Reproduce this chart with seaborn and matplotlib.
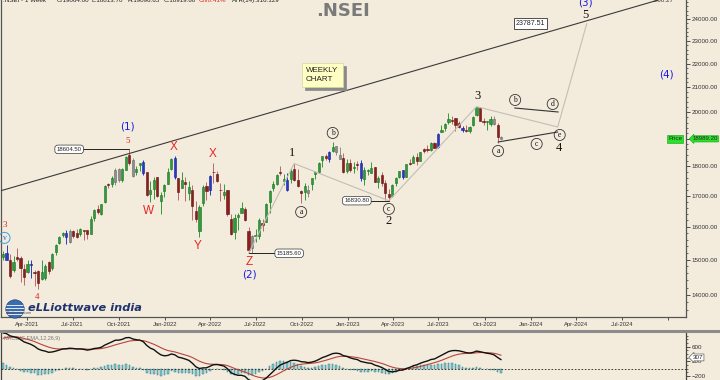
import numpy as np
import pandas as pd
import matplotlib
matplotlib.use("Agg")
import matplotlib.pyplot as plt
import matplotlib.dates as mdates
import matplotlib.ticker as mticker
from matplotlib import transforms
from matplotlib.lines import Line2D
from matplotlib.patches import Circle
import seaborn as sns

# ---------------- data (weekly candles, week ending Friday) ----------------
first_week_end = "2021-02-12"
opens = [
    15064, 15208, 14999, 14702, 15065, 15049, 14737, 14645, 14837, 14644,
    14677, 14449, 14481, 14928, 14756, 15211, 15487, 15725, 15791, 15525,
    15870, 15794, 15759, 15872, 15878, 15775, 16258, 16565, 16382, 16775,
    17400, 17372, 17443, 17902, 17531, 17867, 18410, 18229, 17783, 18041,
    18140, 17796, 17056, 17209, 17619, 16824, 17149, 17388, 17913, 18308,
    17575, 17244, 17456, 17077, 17192, 16481, 15868, 16757, 17329, 17182,
    17810, 17740, 17183, 17006, 17193, 16227, 15845, 16290, 16414, 16570,
    15877, 15335, 15700, 15710, 16127, 16152, 16776, 17244, 17402, 17812,
    17491, 17188, 17546, 17891, 17540, 17157, 17102, 17094, 17396, 17736,
    17784, 18211, 18377, 18246, 18552, 18719, 18402, 18288, 17831, 18132,
    17923, 18073, 18118, 17541, 17818, 17764, 17965, 17451, 17681, 17421,
    17066, 16977, 17428, 17634, 17863, 17640, 18124, 18121, 18339, 18201,
    18619, 18612, 18595, 18849, 18682, 19248, 19401, 19612, 19707, 19784,
    19576, 19383, 19320, 19298, 19526, 19890, 20156, 19674, 19622, 19539,
    19737, 19521, 19064]
highs = [
    15257, 15431, 15176, 15111, 15336, 15093, 14879, 14984, 14984, 14697,
    14700, 14983, 14863, 14967, 15189, 15469, 15705, 15835, 15901, 15915,
    15893, 15915, 15952, 15882, 15880, 16349, 16543, 16702, 16722, 17340,
    17437, 17644, 17947, 17947, 17941, 18350, 18604, 18310, 18012, 18123,
    18210, 17805, 17489, 17640, 17639, 17118, 17400, 17945, 18286, 18351,
    17600, 17794, 17640, 17490, 17352, 16815, 16694, 17344, 17442, 17704,
    18114, 17842, 17422, 17377, 17197, 16404, 16400, 16415, 16793, 16610,
    16000, 15749, 15927, 16275, 16248, 16752, 17172, 17490, 17719, 17992,
    17727, 17777, 17925, 18096, 17919, 17196, 17428, 17348, 17607, 17838,
    18135, 18363, 18443, 18534, 18888, 18728, 18697, 18473, 18265, 18252,
    18141, 18201, 18204, 17972, 17917, 18134, 17972, 17645, 17800, 17529,
    17207, 17381, 17638, 17842, 17863, 18089, 18267, 18389, 18459, 18508,
    18663, 18777, 18865, 18887, 19201, 19524, 19596, 19992, 19868, 19796,
    19646, 19466, 19530, 19458, 19867, 20222, 20195, 19798, 19661, 19843,
    19849, 19593, 19097]
lows = [
    14977, 14977, 14467, 14635, 14954, 14350, 14264, 14617, 14460, 14248,
    14151, 14416, 14417, 14592, 14697, 15127, 15451, 15678, 15451, 15505,
    15636, 15632, 15707, 15578, 15631, 15775, 16162, 16396, 16374, 16765,
    17255, 17270, 17362, 17452, 17453, 17864, 18034, 17613, 17697, 17836,
    17688, 16985, 16782, 16891, 16966, 16410, 16957, 17383, 17880, 17566,
    16837, 17244, 16810, 16843, 16203, 16134, 15671, 16663, 16843, 17006,
    17422, 17442, 16824, 16888, 16340, 15736, 15601, 15904, 16438, 16172,
    15183, 15191, 15511, 15601, 15858, 16143, 16439, 17154, 17359, 17710,
    17345, 17167, 17429, 17497, 17292, 16748, 16855, 16951, 17186, 17559,
    17774, 17970, 18210, 18133, 18515, 18410, 18255, 17780, 17775, 17795,
    17775, 17853, 17493, 17353, 17698, 17762, 17456, 17255, 17325, 16851,
    16828, 16940, 17313, 17598, 17553, 17613, 18042, 18105, 18060, 18178,
    18464, 18506, 18556, 18647, 18647, 19236, 19302, 19563, 19563, 19297,
    19413, 19254, 19230, 19224, 19491, 19865, 19657, 19492, 19333, 19480,
    19518, 18837, 18974]
closes = [
    15163, 14982, 14529, 14938, 15031, 14744, 14507, 14867, 14835, 14617,
    14341, 14631, 14823, 14677, 15175, 15436, 15670, 15799, 15683, 15860,
    15722, 15690, 15923, 15856, 15763, 16238, 16529, 16450, 16705, 17324,
    17369, 17585, 17853, 17532, 17895, 18338, 18115, 17672, 17916, 18102,
    17765, 17026, 17197, 17511, 16985, 17004, 17354, 17812, 18256, 17617,
    17102, 17516, 17375, 17276, 16658, 16246, 16630, 17287, 17153, 17670,
    17784, 17476, 17172, 17102, 16411, 15782, 16266, 16352, 16584, 16201,
    15293, 15699, 15752, 16220, 16049, 16719, 17158, 17397, 17698, 17758,
    17558, 17539, 17833, 17531, 17327, 17094, 17315, 17186, 17576, 17787,
    18117, 18350, 18308, 18512, 18697, 18497, 18269, 17807, 18105, 17859,
    17957, 18028, 17604, 17854, 17856, 17944, 17466, 17594, 17413, 17100,
    16945, 17360, 17599, 17828, 17624, 18065, 18069, 18315, 18203, 18499,
    18534, 18563, 18826, 18665, 19189, 19332, 19565, 19745, 19646, 19517,
    19428, 19310, 19266, 19435, 19820, 20192, 19674, 19638, 19654, 19751,
    19543, 19047, 18989]
blue_candles = [1, 8, 18, 40, 49, 59, 81, 93, 102, 114, 124, 131]
grey_candles = [19, 32, 33, 37, 71, 87, 95, 96, 140, 142]

# MACD(C,EMA,12,26,9) state at the first bar
macd_first = 975
signal_first = 830
fast_ema_gap_first = 860
macd_tag = 307
last_price = 18989.20

# drawn analysis
trend_dates = ["2021-04-01", "2024-07-01"]
trend_prices = [17416, 24397]
wave_dates = ["2022-06-17", "2022-09-16", "2023-03-24", "2023-09-15", "2024-02-24", "2024-04-22"]
wave_prices = [15183.4, 18096.2, 16828.3, 20222.5, 19435, 23787.51]
tri_bd_dates = ["2023-11-30", "2024-02-25"]
tri_bd_prices = [20170, 20013]
tri_ae_dates = ["2023-10-28", "2024-02-24"]
tri_ae_prices = [18874, 19246]
level_values = [18604.50, 15185.60, 16830.80]
level_from = ["2021-10-22", "2022-06-17", "2023-03-24"]
level_box_at = ["2021-06-24", "2022-09-06", "2023-01-19"]
target_value = 23787.51
target_box_at = "2024-01-01"

# ---------------- style ----------------
BG = "#F3ECDC"
sns.set_theme(style="white", rc={"axes.facecolor": BG, "figure.facecolor": BG,
                                 "savefig.facecolor": BG})
plt.rcParams["font.family"] = ["Liberation Sans", "DejaVu Sans"]

GREEN, GREEN_E = "#2F9B39", "#1F6E26"
RED, RED_E, RED_W = "#8E1D1D", "#5E1010", "#B86A6A"
BLUE, GREY = "#2638D0", "#8E8E8E"

W, H = 720, 380
def rect(x0, y0, x1, y1):
    return [x0 / W, 1 - y1 / H, (x1 - x0) / W, (y1 - y0) / H]

fig = plt.figure(figsize=(7.2, 3.8), dpi=100)
ax = fig.add_axes(rect(1, 0, 686, 317))
axm = fig.add_axes(rect(1, 332, 686, 380))

dates = pd.date_range(first_week_end, periods=len(closes), freq="W-FRI")
df = pd.DataFrame({"date": dates, "open": opens, "high": highs, "low": lows, "close": closes})

body_c, edge_c, wick_c = [], [], []
for i, (o, c) in enumerate(zip(df["open"], df["close"])):
    if i in blue_candles:
        body_c.append(BLUE); edge_c.append("#14208A"); wick_c.append(BLUE)
    elif i in grey_candles:
        body_c.append(GREY); edge_c.append("#666666"); wick_c.append(GREY)
    elif c >= o:
        body_c.append(GREEN); edge_c.append(GREEN_E); wick_c.append(GREEN)
    else:
        body_c.append(RED); edge_c.append(RED_E); wick_c.append(RED_W)

ax.set_yscale("log")
ax.vlines(df["date"], df["low"], df["high"], colors=wick_c, lw=0.7, zorder=3)
bh = np.maximum((df["close"] - df["open"]).abs().values, 25)
bb = np.minimum(df["open"], df["close"]).values
ax.bar(df["date"], bh, bottom=bb, width=4.3, color=body_c, edgecolor=edge_c, lw=0.4, zorder=4)

xmin = pd.Timestamp("2021-04-01") - pd.Timedelta(days=52)
xmax = pd.Timestamp("2021-04-01") + pd.Timedelta(days=1315)
ax.set_xlim(xmin, xmax)
ax.set_ylim(13409, 24907)

# trend line and wave paths
d2n = lambda s: mdates.date2num(pd.Timestamp(s))
ax.axline((d2n(trend_dates[0]), trend_prices[0]), (d2n(trend_dates[1]), trend_prices[1]),
          color="#3a3a3a", lw=0.8, zorder=5)
ax.plot(pd.to_datetime(wave_dates), wave_prices, color="#C2BEB5", lw=0.8, zorder=5)
ax.plot(pd.to_datetime(tri_bd_dates), tri_bd_prices, color="#333", lw=0.8, zorder=5)
ax.plot(pd.to_datetime(tri_ae_dates), tri_ae_prices, color="#333", lw=0.8, zorder=5)

for v, d0, db in zip(level_values, level_from, level_box_at):
    ax.plot(pd.to_datetime([db, d0]), [v, v], color="#222", lw=0.7, zorder=6)
    ax.text(pd.Timestamp(db), v, f"{v:.2f}", fontsize=4.3, ha="center", va="center", zorder=7,
            color="#222", bbox=dict(boxstyle="round,pad=0.3,rounding_size=0.5", fc="white", ec="#333", lw=0.5))
ax.text(pd.Timestamp(target_box_at), target_value, f"{target_value:.2f}", fontsize=5, ha="center",
        va="center", zorder=7, color="#222",
        bbox=dict(boxstyle="square,pad=0.25", fc="white", ec="#333", lw=0.6))

# wave labels
styles = {
    "rn": dict(family="Liberation Serif", fontsize=6.5, color="#E02020"),
    "rl": dict(family="Liberation Sans", fontsize=8.5, color="#E62626"),
    "bd": dict(family="DejaVu Sans", fontsize=7.5, color="#1A1AE6"),
    "bn": dict(family="Liberation Serif", fontsize=9, color="#111"),
    "ci": dict(family="Liberation Serif", fontsize=5.5, color="#111",
               bbox=dict(boxstyle="circle,pad=0.2", fc="none", ec="#333", lw=0.6)),
    "cv": dict(family="Liberation Serif", fontsize=5.5, color="#1E60D0",
               bbox=dict(boxstyle="circle,pad=0.2", fc="none", ec="#3AA0E8", lw=0.7)),
}
labels = [
    ("3", "2021-02-15", 16052, "rn"), ("v", "2021-02-15", 15650, "cv"),
    ("4", "2021-04-22", 13946, "rn"), ("(1)", "2021-10-19", 19435, "bd"),
    ("5", "2021-10-19", 18912, "rn"), ("X", "2022-01-19", 18691, "rl"),
    ("W", "2021-11-30", 16495, "rl"), ("Y", "2022-03-08", 15403, "rl"),
    ("X", "2022-04-07", 18439, "rl"), ("Z", "2022-06-18", 14930, "rl"),
    ("(2)", "2022-06-18", 14557, "bd"), ("1", "2022-09-12", 18473, "bn"),
    ("a", "2022-09-30", 16462, "ci"), ("b", "2022-12-02", 19210, "ci"),
    ("c", "2023-03-24", 16560, "ci"), ("2", "2023-03-23", 16178, "bn"),
    ("3", "2023-09-16", 20628, "bn"), ("a", "2023-10-28", 18545, "ci"),
    ("b", "2023-12-01", 20489, "ci"), ("c", "2024-01-13", 18802, "ci"),
    ("d", "2024-02-14", 20329, "ci"), ("e", "2024-02-28", 19135, "ci"),
    ("4", "2024-02-26", 18655, "bn"), ("(3)", "2024-04-20", 24762, "bd"),
    ("5", "2024-04-20", 24188, "bn"), ("(4)", "2024-09-27", 21514, "bd"),
]
for t, d, p, s in labels:
    ax.text(pd.Timestamp(d), p, t, ha="center", va="center", zorder=8, **styles[s])

# weekly chart note with shadow
note_d, note_p = pd.Timestamp("2022-11-11"), 21514
sh = transforms.offset_copy(ax.transData, fig=fig, x=3, y=-3, units="dots")
ax.text(note_d, note_p, "WEEKLY\nCHART", transform=sh, fontsize=5.8, ha="center", va="center",
        multialignment="left", linespacing=1.35, color="#8A8A8A", zorder=8,
        bbox=dict(boxstyle="square,pad=0.55", fc="#8A8A8A", ec="#8A8A8A", lw=0.5))
ax.text(note_d, note_p, "WEEKLY\nCHART", fontsize=5.8, ha="center", va="center",
        multialignment="left", linespacing=1.35, color="#222", zorder=9,
        bbox=dict(boxstyle="square,pad=0.55", fc="#FFFFC4", ec="#D4D4A0", lw=0.5))

# price tags
bt = transforms.blended_transform_factory(ax.transAxes, ax.transData)
ax.text(0.9945, last_price, "Price", transform=bt, ha="right", va="center", fontsize=4.5, zorder=9,
        bbox=dict(boxstyle="square,pad=0.2", fc="#2BE02B", ec="#12A012", lw=0.4))
ax.text(1.0095, last_price, f"{last_price:.2f}", transform=bt, ha="left", va="center", fontsize=4.4,
        zorder=9, clip_on=False,
        bbox=dict(boxstyle="larrow,pad=0.1", fc="#2BE02B", ec="#12A012", lw=0.4))

# price axis formatting
ax.yaxis.tick_right()
ax.yaxis.set_major_locator(mticker.FixedLocator(np.arange(14000, 24001, 1000)))
ax.yaxis.set_major_formatter(mticker.FuncFormatter(lambda v, p: f"{v:.2f}"))
ax.yaxis.set_minor_locator(mticker.FixedLocator([v for v in np.arange(13400, 25000, 200) if v % 1000]))
ax.yaxis.set_minor_formatter(mticker.NullFormatter())
ax.tick_params(axis="y", which="major", right=True, left=False, length=3, width=0.6,
               labelsize=4.5, pad=1.2, colors="#333")
ax.tick_params(axis="y", which="minor", right=True, left=False, length=1.6, width=0.5, colors="#333")
ax.xaxis.set_major_locator(mdates.MonthLocator(bymonth=[1, 4, 7, 10]))
ax.xaxis.set_major_formatter(mticker.FuncFormatter(
    lambda v, p: "" if mdates.num2date(v).year == 2024 and mdates.num2date(v).month == 10
    else mdates.num2date(v).strftime("%b-%Y")))
ax.tick_params(axis="x", bottom=True, length=2, width=0.6, labelsize=4.2, pad=1.5, colors="#333")
for s in ["left", "right", "bottom"]:
    ax.spines[s].set_color("#555"); ax.spines[s].set_linewidth(0.9)
ax.spines["top"].set_visible(False)
ax.grid(False)

# ---------------- MACD panel ----------------
af, asl, ag = 2 / 13, 2 / 27, 2 / 10
ef = [closes[0] - fast_ema_gap_first]
es = [ef[0] - macd_first]
for c in closes[1:]:
    ef.append(ef[-1] + af * (c - ef[-1]))
    es.append(es[-1] + asl * (c - es[-1]))
macd = np.array(ef) - np.array(es)
sig = [signal_first]
for m in macd[1:]:
    sig.append(sig[-1] + ag * (m - sig[-1]))
sig = np.array(sig)
mdf = pd.DataFrame({"date": dates, "macd": macd, "signal": sig, "bars": macd - sig})

axm.bar(mdf["date"], mdf["bars"], width=3.0, color="#7CCAD5", edgecolor="#2F7E8A", lw=0.35, zorder=2)
axm.axhline(0, color="#222", lw=0.6, ls=(0, (2, 2)), zorder=3)
sns.lineplot(data=mdf, x="date", y="signal", ax=axm, color="#B8443C", lw=0.8, zorder=4)
sns.lineplot(data=mdf, x="date", y="macd", ax=axm, color="#111", lw=1.0, zorder=5)
axm.set_xlim(xmin, xmax)
axm.set_ylim(-309, 1001)
axm.set_xlabel(""); axm.set_ylabel("")
axm.set_xticks([])
axm.yaxis.tick_right()
axm.yaxis.set_major_locator(mticker.FixedLocator([600, 200, -200]))
axm.yaxis.set_minor_locator(mticker.FixedLocator([-300, -100, 0, 100, 300, 400, 500, 700, 800, 900]))
axm.tick_params(axis="y", which="major", right=True, left=False, length=3, width=0.6,
                labelsize=4.5, pad=1.2, colors="#333")
axm.tick_params(axis="y", which="minor", right=True, left=False, length=1.6, width=0.5, colors="#333")
for s in ["left", "right"]:
    axm.spines[s].set_color("#444"); axm.spines[s].set_linewidth(0.9)
axm.spines["top"].set_visible(False); axm.spines["bottom"].set_visible(False)
axm.grid(False)
axm.text(0.004, 0.86, "MACD(C,EMA,12,26,9)", transform=axm.transAxes, fontsize=4, color="#7a7a7a",
         va="center", zorder=1)
bm = transforms.blended_transform_factory(axm.transAxes, axm.transData)
axm.text(1.0095, macd_tag, f"{macd_tag}", transform=bm, ha="left", va="center", fontsize=4.5,
         clip_on=False, zorder=9,
         bbox=dict(boxstyle="larrow,pad=0.15", fc="white", ec="#666", lw=0.5))

# separator between panels
fig.add_artist(Line2D([0, 1], [1 - 331 / H] * 2, transform=fig.transFigure, color="#8C8C8C", lw=2.2))

# header texts
ty = 1 - 0.5 / H
fig.text(3 / W, ty, ".NSEI - 1 Week", fontsize=4.5, va="center", color="#222")
for xp, t, col in [(57, "O:19064.00", "#222"), (92, "L:18813.70", "#222"), (127, "H:19096.65", "#222"),
                   (164, "C:18919.60", "#222"), (199, "Ch/0.41%", "#E02020"), (232, "ATR(14):316.129", "#222")]:
    fig.text(xp / W, ty, t, fontsize=4.5, va="center", color=col)
fig.text(652 / W, ty, "1:00:27", fontsize=4.5, va="center", color="#333")
fig.text(343 / W, 1 - 11.5 / H, ".NSEI", fontsize=13, fontweight="bold", color="#7A7A7A",
         family="DejaVu Sans", ha="center", va="center")

# logo
fig.text(28 / W, 1 - 308 / H, "eLLiottwave india", fontsize=8.2, fontstyle="italic",
         fontweight="bold", color="#1F3270", family="DejaVu Sans", va="center")
fig.text(6 / W, 1 - 313.5 / H, "elliottwave.com", fontsize=2.8, color="#555", va="center")
gax = fig.add_axes(rect(5, 299, 25, 319))
gax.set_xlim(0, 1); gax.set_ylim(0, 1); gax.axis("off")
globe = Circle((0.5, 0.5), 0.46, fc="#3B6BB0", ec="#24467C", lw=0.5)
gax.add_patch(globe)
for yy in [0.25, 0.4, 0.55, 0.7]:
    ln, = gax.plot([0, 1], [yy, yy], color="white", lw=0.6)
    ln.set_clip_path(globe)

fig.savefig("out.png", dpi=100)
